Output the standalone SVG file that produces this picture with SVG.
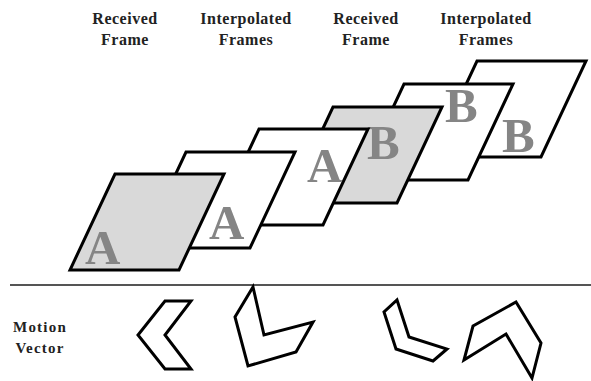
<svg xmlns="http://www.w3.org/2000/svg" width="591" height="381" viewBox="0 0 591 381">
<style>
.lbl{font-family:"Liberation Serif","Times New Roman",serif;font-weight:bold;font-size:16px;letter-spacing:0.5px;fill:#222;text-anchor:middle}
.mlbl{font-size:15px;letter-spacing:1.2px}
.frame{stroke:#000;stroke-width:3;stroke-linejoin:miter}
.rx{fill:#d9d9d9}
.ip{fill:#fff}
.let{font-family:"Liberation Serif","Times New Roman",serif;font-weight:bold;font-size:49px;fill:#858585}
.mv{fill:#fff;stroke:#000;stroke-width:3;stroke-linejoin:miter}
</style>
<rect width="591" height="381" fill="#fff"/>
<g id="labels">
<text class="lbl" x="125" y="24">Received</text>
<text class="lbl" x="125" y="45">Frame</text>
<text class="lbl" x="246" y="24">Interpolated</text>
<text class="lbl" x="246" y="45">Frames</text>
<text class="lbl" x="366" y="24">Received</text>
<text class="lbl" x="366" y="45">Frame</text>
<text class="lbl" x="486" y="24">Interpolated</text>
<text class="lbl" x="486" y="45">Frames</text>
</g>
<g id="frame6"><path class="frame ip" d="M477,61 h109 l-45,96 h-109 z"/><text class="let" x="502" y="152">B</text></g>
<g id="frame5"><path class="frame ip" d="M404,84 h109 l-45,96 h-109 z"/><text class="let" x="445" y="122">B</text></g>
<g id="frame4"><path class="frame rx" d="M333,107 h109 l-45,96 h-109 z"/><text class="let" x="367" y="159">B</text></g>
<g id="frame3"><path class="frame ip" d="M259,129 h109 l-45,96 h-109 z"/><text class="let" x="307" y="182">A</text></g>
<g id="frame2"><path class="frame ip" d="M186,152 h109 l-45,96 h-109 z"/><text class="let" x="209" y="239">A</text></g>
<g id="frame1"><path class="frame rx" d="M115,174 h109 l-45,96 h-109 z"/><text class="let" x="85" y="264">A</text></g>
<line id="divider" x1="10" y1="285" x2="591" y2="285" stroke="#555" stroke-width="2"/>
<g id="motion-label">
<text class="lbl mlbl" x="40" y="332">Motion</text>
<text class="lbl mlbl" x="40" y="353">Vector</text>
</g>
<g id="mv1"><path class="mv" d="M165,301 L191,301 L165,335 L191,369 L165,369 L138,335 Z"/></g>
<g id="mv2"><path class="mv" d="M253,287 L264,335 L313,322 L296,352 L248,366 L235,317 Z"/></g>
<g id="mv3"><path class="mv" d="M397,300 L409,337 L447,349 L433,361 L396,349 L384,312 Z"/></g>
<g id="mv4"><path class="mv" d="M516,302 L541,343 L532,378 L506,334 L464,360 L473,326 Z"/></g>
</svg>
